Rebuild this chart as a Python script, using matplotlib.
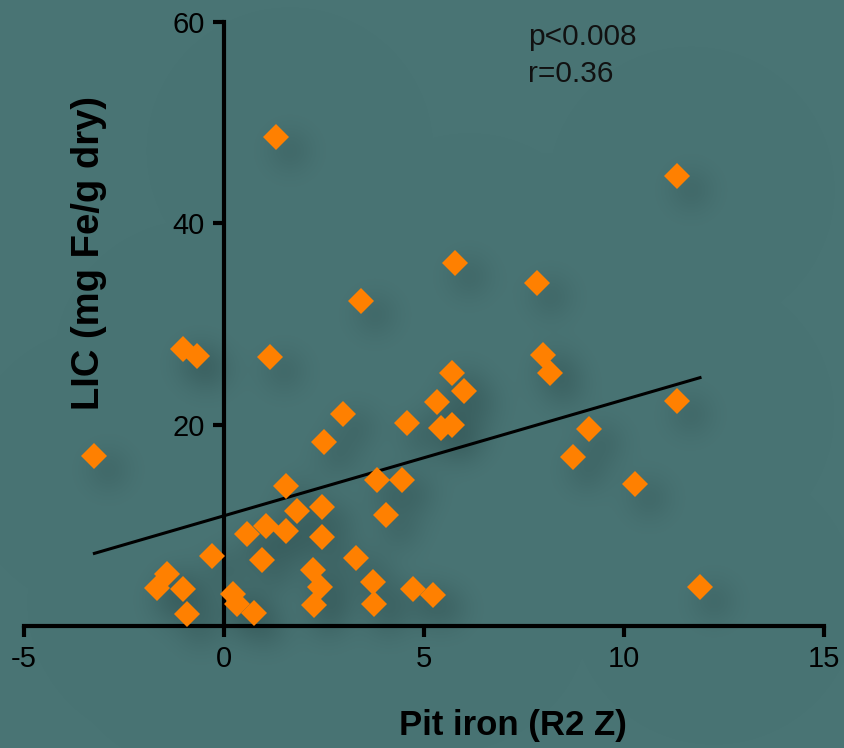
import numpy as np
import matplotlib
matplotlib.use("Agg")
import matplotlib.pyplot as plt
from matplotlib.colors import to_rgb

plt.rcParams["axes.unicode_minus"] = False

# Pit iron (R2 Z) vs liver iron concentration
pit_iron = [-3.24, 1.30, 11.33, -1.02, -0.68, 1.15, 3.43, 5.78, 7.82, 7.97,
            8.15, 5.69, 6.00, 5.32, 5.42, 5.71, 4.57, 2.97, 2.51, 11.32,
            9.13, 8.72, 10.28, 11.90, 3.82, 4.44, 4.05, 1.55, 1.83, 2.44,
            1.04, 0.58, 1.54, 2.44, 0.96, -0.29, 3.29, 2.23, 2.40, 2.25,
            3.73, 3.76, 4.73, 5.23, -1.43, -1.68, -1.03, -0.93, 0.23, 0.32,
            0.75]
lic = [16.9, 48.6, 44.7, 27.5, 26.8, 26.7, 32.3, 36.1, 34.1, 26.9,
       25.1, 25.1, 23.3, 22.3, 19.7, 20.0, 20.2, 21.1, 18.3, 22.4,
       19.6, 16.8, 14.1, 3.85, 14.5, 14.5, 11.0, 13.9, 11.4, 11.8,
       9.9, 9.15, 9.45, 8.8, 6.6, 7.0, 6.8, 5.6, 3.9, 2.1,
       4.4, 2.2, 3.65, 3.1, 5.2, 3.75, 3.7, 1.15, 3.15, 2.2,
       1.25]

# linear fit
fit_slope = 1.153
fit_intercept = 10.95

x_ticks = [-5, 0, 5, 10, 15]
y_ticks = [20, 40, 60]

bg = "#497474"
orange = "#ff8000"
W, H = 844, 748

fig = plt.figure(figsize=(W / 100, H / 100), dpi=100, facecolor=bg)
ax = fig.add_axes([24 / W, 1 - 626 / H, 800 / W, 604 / H])
ax.set_facecolor("none")
ax.set_xlim(-5, 15)
ax.set_ylim(0, 60)

# soft blurred drop shadow behind each marker
pts = ax.transData.transform(np.column_stack([pit_iron, lic]))
gx, gy = np.meshgrid(np.arange(W) + 0.5, np.arange(H) + 0.5)
keep = np.ones((H, W))
for px, py in pts:
    d2 = (gx - (px + 14)) ** 2 + (gy - (py - 14)) ** 2
    keep *= 1 - 0.17 * np.exp(-d2 / (2 * 17 ** 2))
shade = 1 - keep
base = np.array(to_rgb(bg))
dark = np.array(to_rgb("#1f3a3a"))
img = base * (1 - shade[..., None]) + dark * shade[..., None]

back = fig.add_axes([0, 0, 1, 1], zorder=-1)
back.imshow(img, extent=(0, W, 0, H), origin="lower", aspect="auto")
back.axis("off")

xf = np.array([min(pit_iron), max(pit_iron)])
ax.plot(xf, fit_slope * xf + fit_intercept, color="black", lw=2.2, zorder=2)

ax.plot(pit_iron, lic, linestyle="none", marker="D", markersize=13.7,
        color=orange, markeredgewidth=0, zorder=3, clip_on=False)

ax.spines["top"].set_visible(False)
ax.spines["right"].set_visible(False)
ax.spines["left"].set_position(("data", 0))
for s in ("left", "bottom"):
    ax.spines[s].set_linewidth(3)
    ax.spines[s].set_capstyle("projecting")

ax.set_xticks(x_ticks)
ax.set_yticks(y_ticks)
ax.tick_params(axis="both", direction="out", length=8, width=3,
               labelsize=21, colors="black", pad=6)
for lab in ax.get_xticklabels() + ax.get_yticklabels():
    lab.set_family("Liberation Sans")

fig.text(513 / W, 1 - 725 / H, "Pit iron (R2 Z)", ha="center", va="center",
         fontsize=25, fontweight="bold", family="Liberation Sans")
fig.text(89 / W, 1 - 253 / H, "LIC (mg Fe/g dry)", ha="center", va="center",
         rotation=90, fontsize=27.5, fontweight="bold", family="Liberation Sans")

fig.text(528 / W, 1 - 45 / H, "p<0.008", ha="left", va="baseline",
         fontsize=21.5, family="Liberation Sans", color="#111111")
fig.text(528 / W, 1 - 82 / H, "r=0.36", ha="left", va="baseline",
         fontsize=21.5, family="Liberation Sans", color="#111111")

fig.savefig("out.png", dpi=100, facecolor=bg)
